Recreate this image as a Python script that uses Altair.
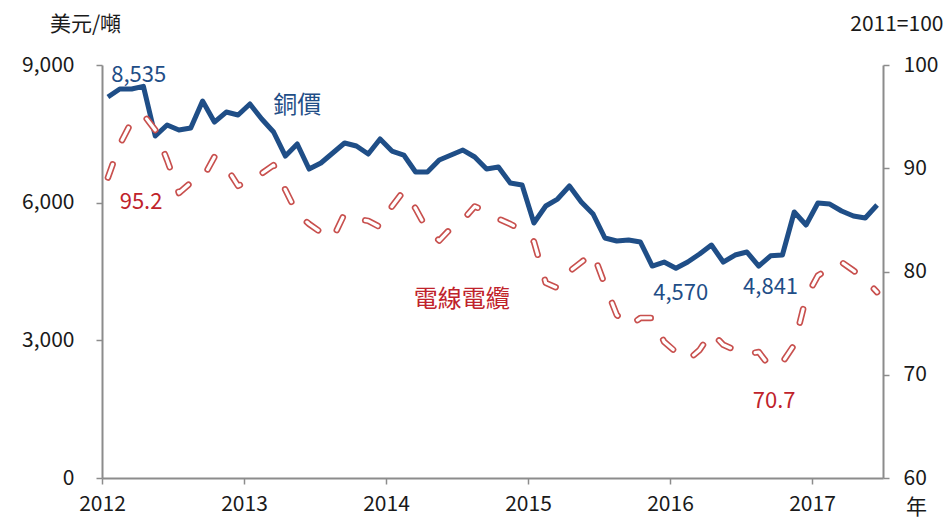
import altair as alt
import pandas as pd

BLUE = "#1F4E87"
RED_LINE = "#C8504E"
RED_TEXT = "#C0232B"
FONT = "Noto Sans CJK TC"

copper = [8302, 8476, 8476, 8535, 7452, 7692, 7583, 7627, 8215, 7757, 7975, 7910,
          8150, 7823, 7540, 7016, 7278, 6733, 6864, 7082, 7300, 7234, 7060, 7387,
          7125, 7038, 6668, 6668, 6929, 7038, 7147, 6995, 6733, 6777, 6428, 6384,
          5556, 5927, 6079, 6363, 6014, 5753, 5230, 5164, 5186, 5142, 4619, 4706,
          4570, 4706, 4881, 5077, 4706, 4859, 4924, 4619, 4841, 4859, 5796, 5513,
          5992, 5970, 5818, 5709, 5665, 5948]
cable = [89.1, 92.3, 94.5, 95.2, 93.7, 90.8, 87.6, 88.6, 89.0, 91.1, 90.1, 88.3,
         88.8, 89.5, 90.3, 87.9, 85.6, 84.6, 83.8, 83.2, 85.6, 85.1, 84.9, 84.3,
         86.3, 87.8, 86.1, 84.0, 83.0, 84.2, 85.0, 86.3, 85.8, 85.1, 84.6, 84.0,
         82.9, 78.9, 78.4, 80.0, 80.9, 81.8, 78.7, 75.8, 74.7, 75.5, 75.5, 73.2,
         72.2, 71.4, 72.4, 74.1, 72.9, 72.4, 72.0, 72.2, 70.7, 71.2, 72.9, 77.5,
         79.6, 80.3, 80.9, 80.1, 79.2, 78.0]
months = [i + 0.5 for i in range(len(copper))]

blue_labels = ["8,535", "銅價", "4,570", "4,841"]
blue_lab_m = [3.1, 16.5, 48.9, 56.5]
blue_lab_v = [8780, 8110, 4030, 4160]
blue_lab_size = [22, 24, 22, 22]

red_labels = ["95.2", "電線電纜", "70.7"]
red_lab_m = [3.3, 30.4, 56.8]
red_lab_v = [86.7, 77.2, 67.5]
red_lab_size = [22, 24, 22]

df = pd.DataFrame({"m": months, "copper": copper, "cable": cable})
df_bl = pd.DataFrame({"m": blue_lab_m, "copper": blue_lab_v, "t": blue_labels, "s": blue_lab_size})
df_rl = pd.DataFrame({"m": red_lab_m, "cable": red_lab_v, "t": red_labels, "s": red_lab_size})

AX = dict(domainColor="#8C8C8C", domainWidth=2, tickColor="#8C8C8C", tickWidth=1.5,
          tickSize=6, labelFont=FONT, labelFontSize=21, labelColor="#1A1A1A",
          titleFont=FONT, titleFontSize=21, titleFontWeight="normal", titleColor="#1A1A1A",
          grid=False, labelOverlap=False)

X = alt.X("m:Q", scale=alt.Scale(domain=[0, 66], nice=False, zero=False),
          axis=alt.Axis(values=[0, 12, 24, 36, 48, 60], labelExpr="2012 + datum.value/12",
                        labelFlush=False, labelPadding=9, title="年", titleAngle=0,
                        titleX=814, titleY=29, titleAlign="center", titleBaseline="middle",
                        **AX))

YL = alt.Y("copper:Q", scale=alt.Scale(domain=[0, 9000], nice=False),
           axis=alt.Axis(orient="left", values=[0, 3000, 6000, 9000],
                         labelExpr="format(datum.value, ',')",
                         labelPadding=22, title="美元/噸", titleAngle=0, titleX=-17,
                         titleY=-41, titleAlign="center", titleBaseline="middle", **AX))
YR = alt.Y("cable:Q", scale=alt.Scale(domain=[60, 100], nice=False, zero=False),
           axis=alt.Axis(orient="right", values=[60, 70, 80, 90, 100],
                         labelPadding=14, title="2011=100", titleAngle=0, titleX=60,
                         titleY=-41, titleAlign="right", titleBaseline="middle", **AX))

base = alt.Chart(df)
blue_line = base.mark_line(color=BLUE, strokeWidth=5, strokeJoin="round").encode(x=X, y=YL)
blue_text = alt.Chart(df_bl).mark_text(color=BLUE, font=FONT, baseline="middle",
                                       align="center").encode(
    x=X, y=YL, text="t:N", size=alt.Size("s:Q", scale=None, legend=None))
left = alt.layer(blue_line, blue_text)

red_outer = base.mark_line(color=RED_LINE, strokeWidth=6.5, strokeDash=[14, 26],
                           strokeCap="round", strokeJoin="round").encode(x=X, y=YR)
red_inner = base.mark_line(color="white", strokeWidth=3.2, strokeDash=[14, 26],
                           strokeCap="round", strokeJoin="round").encode(x=X, y=YR)
red_text = alt.Chart(df_rl).mark_text(color=RED_TEXT, font=FONT, baseline="middle",
                                      align="center").encode(
    x=X, y=YR, text="t:N", size=alt.Size("s:Q", scale=None, legend=None))
right = alt.layer(red_outer, red_inner, red_text)

chart = alt.layer(left, right).resolve_scale(y="independent").properties(
    width=781, height=413,
    autosize=alt.AutoSizeParams(type="none"),
    padding={"left": 94, "top": 57, "right": 61, "bottom": 40},
).configure_view(stroke=None)

chart.save("out.html", embed_options={"renderer": "svg", "actions": False})
